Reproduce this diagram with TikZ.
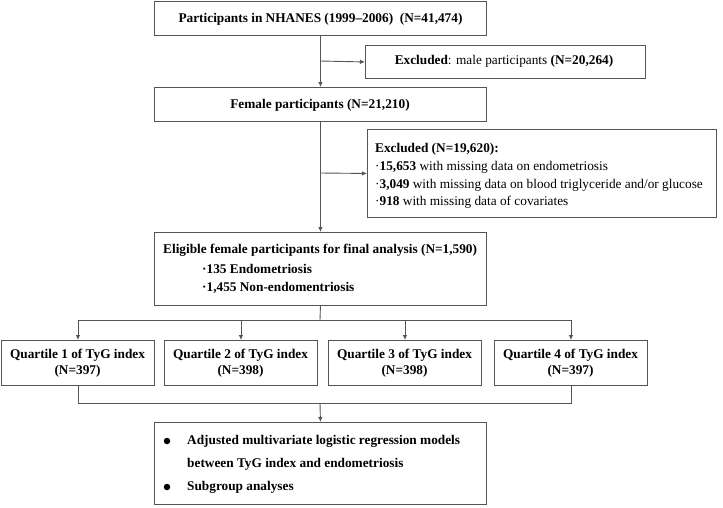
\documentclass[tikz,border=0pt]{standalone}
\usepackage{fontspec}
\setmainfont{Liberation Serif}
\usetikzlibrary{arrows.meta}
\definecolor{linegray}{RGB}{85,85,85}
\begin{document}
\begin{tikzpicture}[x=1pt,y=-1pt,
  box/.style={draw=linegray, line width=0.9pt, inner sep=0pt, anchor=north west},
  ln/.style={draw=linegray, line width=0.9pt},
  arr/.style={ln, -{Latex[length=5pt,width=4.5pt]}},
  txt/.style={inner sep=0pt, font=\fontsize{13.3}{16}\selectfont},
  ltxt/.style={txt, anchor=west},
  dot/.style={circle, fill=black, inner sep=0pt, minimum size=6.5pt}]
\useasboundingbox (0,0) rectangle (723,507);

% boxes
\node[box, minimum width=332pt, minimum height=34pt] (b1) at (154,1) {};
\node[txt] (t1) at (320.5,19) {\bfseries Participants in NHANES (1999–2006)\ \ (N=41,474)};

\node[box, minimum width=280pt, minimum height=33pt] (e1) at (365,45) {};
\node[txt] (te1) at (504,61) {\textbf{Excluded}: male participants \textbf{(N=20,264)}};

\node[box, minimum width=332pt, minimum height=34pt] (b2) at (154,87) {};
\node[txt] (t2) at (320,105) {\bfseries Female participants (N=21,210)};

\node[box, minimum width=349pt, minimum height=88pt] (e2) at (367,129) {};
\node[ltxt] (te2a) at (375,149) {\textbf{Excluded (N=19,620):}};
\node[ltxt] (te2b) at (375,167) {·\textbf{15,653} with missing data on endometriosis};
\node[ltxt] (te2c) at (375,185) {·\textbf{3,049} with missing data on blood triglyceride and/or glucose};
\node[ltxt] (te2d) at (375,202) {·\textbf{918} with missing data of covariates};

\node[box, minimum width=332pt, minimum height=73pt] (b4) at (154,232) {};
\node[ltxt] (t4a) at (163,250) {\bfseries Eligible female participants for final analysis (N=1,590)};
\node[ltxt] (t4b) at (202,269) {\bfseries ·135 Endometriosis};
\node[ltxt] (t4c) at (202,288) {\bfseries ·1,455 Non-endomentriosis};

% quartiles
\node[box, minimum width=153pt, minimum height=45pt] (q1) at (1,340) {};
\node[box, minimum width=153pt, minimum height=45pt] (q2) at (164,340) {};
\node[box, minimum width=153pt, minimum height=45pt] (q3) at (328,340) {};
\node[box, minimum width=153pt, minimum height=45pt] (q4) at (494,340) {};
\node[txt] (q1a) at (77.5,355) {\bfseries Quartile 1 of TyG index};
\node[txt] (q1b) at (77.5,371) {\bfseries (N=397)};
\node[txt] (q2a) at (240.5,355) {\bfseries Quartile 2 of TyG index};
\node[txt] (q2b) at (240.5,371) {\bfseries (N=398)};
\node[txt] (q3a) at (404.5,355) {\bfseries Quartile 3 of TyG index};
\node[txt] (q3b) at (404.5,371) {\bfseries (N=398)};
\node[txt] (q4a) at (570.5,355) {\bfseries Quartile 4 of TyG index};
\node[txt] (q4b) at (570.5,371) {\bfseries (N=397)};

% final box
\node[box, minimum width=332pt, minimum height=82pt] (f) at (154,422) {};
\node[dot] (d1) at (167,441) {};
\node[dot] (d2) at (167,487) {};
\node[ltxt] (f1) at (187,441) {\bfseries Adjusted multivariate logistic regression models};
\node[ltxt] (f2) at (187,464) {\bfseries between TyG index and endometriosis};
\node[ltxt] (f3) at (187,487) {\bfseries Subgroup analyses};

% connectors
\coordinate (j1) at (320,61);
\coordinate (j2) at (320,173);
\coordinate (j3) at (320,320);
\coordinate (j4) at (320,403);
\draw[arr] (b1.south) -- (b2.north);
\draw[arr] (j1) -- (e1.west);
\draw[arr] (b2.south) -- (b4.north);
\draw[arr] (j2) -- (e2.west);
\draw[ln] (b4.south) -- (j3);
\draw[ln] (q1.north |- j3) -- (q4.north |- j3);
\draw[arr] (q1.north |- j3) -- (q1.north);
\draw[arr] (q2.north |- j3) -- (q2.north);
\draw[arr] (q3.north |- j3) -- (q3.north);
\draw[arr] (q4.north |- j3) -- (q4.north);
\draw[ln] (q1.south) -- (q1.south |- j4) -- (q4.south |- j4) -- (q4.south);
\draw[arr] (j4) -- (f.north);
\end{tikzpicture}
\end{document}
